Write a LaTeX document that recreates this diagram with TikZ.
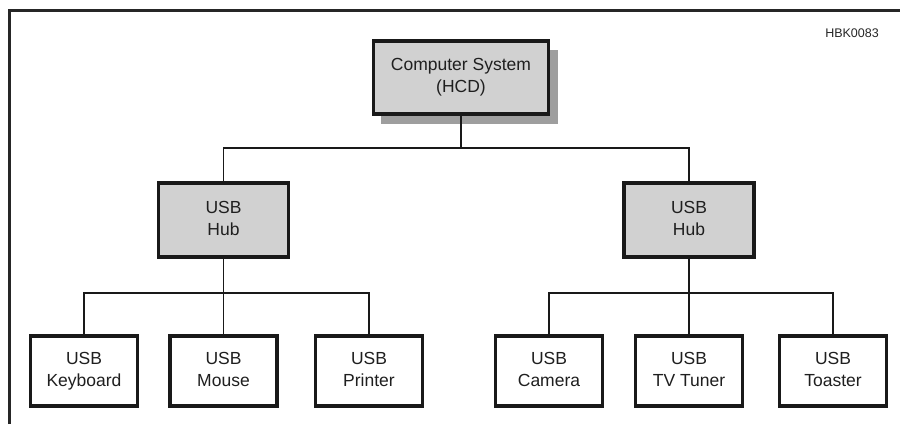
\documentclass[tikz,border=0pt]{standalone}
\usepackage{fontspec}
\setmainfont{Liberation Sans}
\begin{document}
\begin{tikzpicture}[x=1pt,y=-1pt,
  box/.style={draw=black!90,line width=3.3pt,fill=white,align=center,outer sep=0pt,inner sep=0pt,
    font=\fontsize{17.5}{22}\selectfont,text=black!88,execute at end node={\vphantom{y}}},
  leaf/.style={box,minimum width=107pt,minimum height=70pt},
  hub/.style={box,fill=black!18,minimum width=130pt,minimum height=74pt},
  conn/.style={draw=black!90,line width=1.8pt}]
\useasboundingbox (0,0) rectangle (900,424);
\draw[draw=black!85,line width=3pt] (9.5,424) -- (9.5,10) -- (900,10);
\node[font=\fontsize{12.5}{15}\selectfont,text=black!85,anchor=base] (code) at (852,37) {HBK0083};
\fill[black!38] (468,86) ++(-87,-36) rectangle ++(177,74);
\node[hub,minimum width=175pt,minimum height=73pt] (cs) at (461,77.5) {Computer System\\(HCD)};
\node[hub] (hubL) at (223.5,220) {USB\\Hub};
\node[hub] (hubR) at (689,220) {USB\\Hub};
\node[leaf] (kb) at (84,371) {USB\\Keyboard};
\node[leaf] (ms) at (223.5,371) {USB\\Mouse};
\node[leaf] (pr) at (369,371) {USB\\Printer};
\node[leaf] (cam) at (549,371) {USB\\Camera};
\node[leaf] (tv) at (689,371) {USB\\TV Tuner};
\node[leaf] (ts) at (833,371) {USB\\Toaster};
\coordinate (j0) at (461,148);
\coordinate (jL) at (223.5,293);
\coordinate (jR) at (689,293);
\draw[conn] (cs.south) -- (j0);
\draw[conn] (hubL.north) |- (j0) -| (hubR.north);
\draw[conn] (hubL.south) -- (jL);
\draw[conn] (kb.north) |- (jL) -| (pr.north);
\draw[conn] (ms.north) -- (jL);
\draw[conn] (hubR.south) -- (jR);
\draw[conn] (cam.north) |- (jR) -| (ts.north);
\draw[conn] (tv.north) -- (jR);
\end{tikzpicture}
\end{document}
